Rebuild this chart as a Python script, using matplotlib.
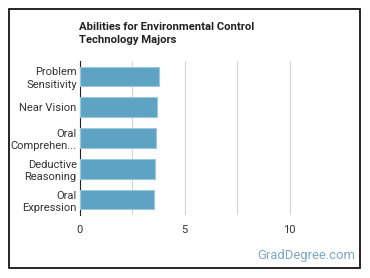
import matplotlib.pyplot as plt
from matplotlib.patches import Rectangle

plt.rcParams['font.family'] = ['Roboto', 'DejaVu Sans']

categories = ["Problem\nSensitivity", "Near Vision", "Oral\nComprehen...",
              "Deductive\nReasoning", "Oral\nExpression"]
values = [3.77, 3.70, 3.66, 3.61, 3.56]
xticks = [0, 5, 10]
title = "Abilities for Environmental Control\nTechnology Majors"

fig = plt.figure(figsize=(3.7, 2.78), dpi=100)
W, H = 370, 278
ax = fig.add_axes([79.5 / W, 1 - 215 / H, (342 - 79.5) / W, (215 - 61) / H])

ypos = list(range(len(categories)))
ax.barh(ypos, values, height=0.63, color="#5ea3c3", edgecolor="#9cc8dc", linewidth=0.8, zorder=3)
ax.set_ylim(len(categories) - 0.5, -0.5)
ax.set_xlim(0, 12.5)
ax.set_yticks(ypos)
ax.set_yticklabels(categories, fontsize=8, color="#333333", linespacing=1.3)
ax.set_xticks(xticks)
ax.set_xticklabels([str(t) for t in xticks], fontsize=8, color="#333333")
ax.set_xticks([2.5, 7.5], minor=True)
ax.grid(axis="x", which="both", color="#d4d4d4", linewidth=0.8, zorder=0)
for s in ["top", "right", "bottom"]:
    ax.spines[s].set_visible(False)
ax.spines["left"].set_color("#222222")
ax.spines["left"].set_linewidth(0.8)
ax.tick_params(axis="both", which="both", length=0, pad=2)
ax.tick_params(axis="x", pad=7)

fig.text(79 / W, 1 - 22 / H, title, fontsize=8.1, fontweight="bold", ha="left", va="top",
         color="#222222", linespacing=1.35)
fig.text(355 / W, 1 - 255 / H, "GradDegree.com", fontsize=9.4, ha="right", va="center",
         color="#7aa8c8")

fig.patches.append(Rectangle((8.5 / W, 1 - 267.5 / H), 351 / W, 259 / H, transform=fig.transFigure,
                             fill=False, edgecolor="black", linewidth=1.2))

fig.savefig("out.png", dpi=100)
